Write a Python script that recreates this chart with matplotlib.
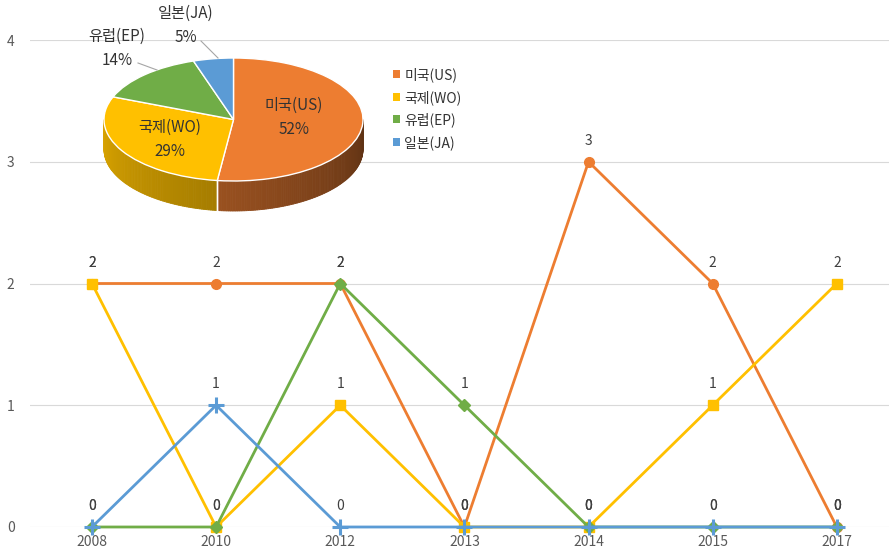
import numpy as np
import matplotlib
matplotlib.use('Agg')
import matplotlib.pyplot as plt
from matplotlib.patches import Polygon, Patch
from matplotlib.colors import to_rgb

plt.rcParams['font.family'] = ['Noto Sans CJK KR', 'DejaVu Sans']

years = ['2008', '2010', '2012', '2013', '2014', '2015', '2017']
series_names = ['미국(US)', '국제(WO)', '유럽(EP)', '일본(JA)']
us = [2, 2, 2, 0, 3, 2, 0]
wo = [2, 0, 1, 0, 0, 1, 2]
ep = [0, 0, 2, 1, 0, 0, 0]
ja = [0, 1, 0, 0, 0, 0, 0]
pie_pct = [52, 29, 14, 5]

colors = ['#ED7D31', '#FFC000', '#70AD47', '#5B9BD5']
markers = ['o', 's', 'D', '+']

W, H = 889, 555
fig = plt.figure(figsize=(W / 100, H / 100), dpi=100)

# ---------------- line chart ----------------
ax = fig.add_axes([29.9 / W, 28 / H, 869 / W, 487 / H])
x = np.arange(len(years))
for vals, c, m in zip([us, wo, ep, ja], colors, markers):
    if m == '+':
        ax.plot(x, vals, color=c, lw=2, marker=m, ms=11, mew=2.2, clip_on=False, zorder=3)
    else:
        ax.plot(x, vals, color=c, lw=2, marker=m, ms=7 if m != 'D' else 6.5,
                clip_on=False, zorder=3)
    for xi, v in zip(x, vals):
        ax.annotate(str(v), (xi, v), xytext=(0, 15), textcoords='offset points',
                    ha='center', va='center', fontsize=10, color='#404040', zorder=4)

ax.set_xlim(-0.5, 6.5)
ax.set_ylim(0, 4)
ax.set_yticks(range(5))
ax.set_xticks(x, years)
ax.grid(axis='y', color='#D9D9D9', lw=0.8)
ax.set_axisbelow(True)
for s in ax.spines.values():
    s.set_visible(False)
ax.tick_params(axis='both', length=0, labelsize=10, labelcolor='#595959')
ax.tick_params(axis='y', pad=11)
ax.tick_params(axis='x', pad=6)

# ---------------- 3D-looking pie ----------------
cx, cy, ra, rb, depth_px = 233.5, 119.5, 129.5, 61.5, 30
pl, pt, pr, pb = 90, 8, 380, 232
pax = fig.add_axes([pl / W, (H - pb) / H, (pr - pl) / W, (pb - pt) / H])
wedges, _ = pax.pie(pie_pct, colors=colors, startangle=90, counterclock=False,
                    radius=1, wedgeprops=dict(edgecolor='white', linewidth=1, zorder=2))
pax.set_aspect('auto')
pax.set_xlim((pl - cx) / ra, (pr - cx) / ra)
pax.set_ylim((cy - pb) / rb, (cy - pt) / rb)
pax.axis('off')

d = depth_px / rb
bounds = 90 - 360 * np.concatenate([[0], np.cumsum(pie_pct)]) / 100.0
for i, c in enumerate(colors):
    t_hi, t_lo = bounds[i], bounds[i + 1]
    lo, hi = max(t_lo, -180), min(t_hi, 0)
    if lo >= hi:
        continue
    base = np.array(to_rgb(c))
    ts = np.linspace(lo, hi, int(hi - lo) + 2)
    for t1, t2 in zip(ts[:-1], ts[1:]):
        tm = 0.5 * (t1 + t2)
        f = 0.86 - 0.46 * (tm + 180) / 180
        col = np.clip(base * f, 0, 1)
        r1, r2 = np.radians(t1), np.radians(t2)
        poly = [(np.cos(r1), np.sin(r1)), (np.cos(r2), np.sin(r2)),
                (np.cos(r2), np.sin(r2) - d), (np.cos(r1), np.sin(r1) - d)]
        pax.add_patch(Polygon(poly, closed=True, facecolor=col, edgecolor=col,
                              lw=0.6, zorder=1))
    for tb in (t_hi, t_lo):
        if -180 < tb < 0:
            rr = np.radians(tb)
            pax.plot([np.cos(rr), np.cos(rr)], [np.sin(rr), np.sin(rr) - d],
                     color='white', lw=1, zorder=1.5)

def to_pd(px, py):
    return ((px - cx) / ra, (cy - py) / rb)

label_pos = [(294, 117), (170, 139), (117, 48), (186, 25)]
for name, p, pos in zip(series_names, pie_pct, label_pos):
    xd, yd = to_pd(*pos)
    pax.text(xd, yd, f'{name}\n{p}%', ha='center', va='center', fontsize=11,
             color='#333333', linespacing=1.55, zorder=5)

for (a, b) in [((138, 63), (157, 70)), ((201, 41), (218, 58))]:
    p1, p2 = to_pd(*a), to_pd(*b)
    pax.plot([p1[0], p2[0]], [p1[1], p2[1]], color='#A6A6A6', lw=0.8, zorder=5)

handles = [Patch(facecolor=c, edgecolor='none') for c in colors]
fig.legend(handles, series_names, loc='upper left',
           bbox_to_anchor=(387 / W, 1 - 62 / H), frameon=False,
           handlelength=0.5, handleheight=0.5, handletextpad=0.35,
           labelspacing=0.55, fontsize=10, labelcolor='#333333', borderaxespad=0)

fig.savefig('out.png', dpi=100)
